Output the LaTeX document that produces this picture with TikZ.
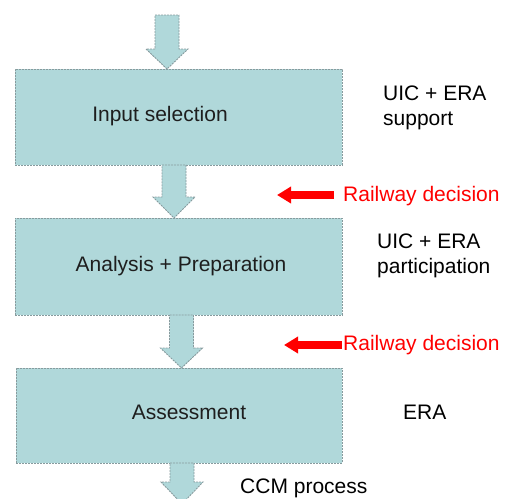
\documentclass[tikz,border=0pt]{standalone}
\usepackage{fontspec}
\setmainfont{Liberation Sans}
\usetikzlibrary{arrows.meta}
\definecolor{boxfill}{RGB}{176,216,218}
\definecolor{boxline}{RGB}{135,155,158}
\definecolor{txtdark}{RGB}{30,30,30}
\newcommand{\blockarr}[4]{%
  \draw[blockarrow] (#1-12,#2) -- (#1+12,#2) -- (#1+12,#3) -- (#1+21,#3) -- (#1,#4)
    -- (#1-21,#3) -- (#1-12,#3) -- cycle;}
\begin{document}
\begin{tikzpicture}[x=1pt,y=-1pt,
  stage/.style={draw=boxline, dash pattern=on 2pt off 1pt, fill=boxfill, line width=0.9pt, inner sep=0pt, anchor=north west},
  stagetext/.style={font=\fontsize{21}{25}\selectfont, text=txtdark},
  note/.style={font=\fontsize{21}{25}\selectfont, align=left, anchor=west, inner sep=0pt},
  decision/.style={font=\fontsize{21}{25}\selectfont, text=red, anchor=west, inner sep=0pt},
  blockarrow/.style={draw=boxline, dash pattern=on 2pt off 1pt, fill=boxfill, line width=0.9pt, line join=miter},
  redarrow/.style={draw=red, line width=8.5pt, -{Triangle[length=14pt,width=16pt]}}
]
\useasboundingbox (0,0) rectangle (506,498);
\clip (0,0) rectangle (506,498);

% boxes
\node[stage, minimum width=327pt, minimum height=96pt] (b1) at (15,69) {};
\node[stage, minimum width=327pt, minimum height=97pt] (b2) at (15,218) {};
\node[stage, minimum width=326pt, minimum height=95pt] (b3) at (16,368) {};

\node[stagetext] (t1) at (160,116) {Input selection};
\node[stagetext] (t2) at (181,266) {Analysis + Preparation};
\node[stagetext] (t3) at (189,412) {Assessment};

% block arrows
\blockarr{167}{15}{49}{69}
\blockarr{174}{165}{197}{218}
\blockarr{181.5}{315}{348}{368}
\blockarr{182}{463}{482}{504}

% side notes
\node[note] (n1) at (383,108) {UIC + ERA\\support};
\node[note] (n2) at (377,256) {UIC + ERA\\participation};
\node[note] (n3) at (403,412) {ERA};
\node[note] (n4) at (240,488) {CCM process};

% railway decisions
\node[decision] (d1) at (343,196) {Railway decision};
\node[decision] (d2) at (343,345) {Railway decision};
\coordinate (r1s) at (334,195);
\coordinate (r1e) at (277,195);
\coordinate (r2s) at (342,345);
\coordinate (r2e) at (284,345);
\draw[redarrow] (r1s) -- (r1e);
\draw[redarrow] (r2s) -- (r2e);
\end{tikzpicture}
\end{document}
